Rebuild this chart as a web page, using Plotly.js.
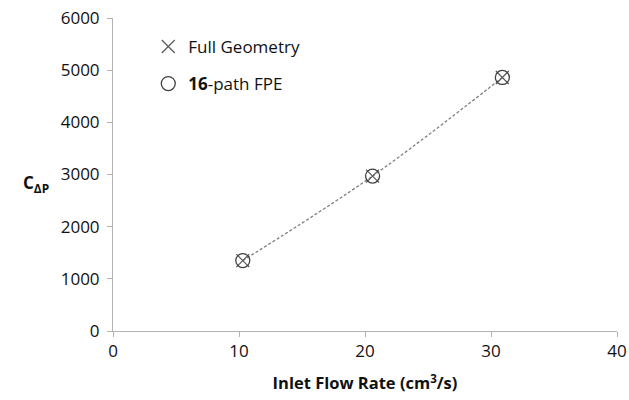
<!DOCTYPE html>
<html>
<head>
<meta charset="utf-8">
<script src="https://cdn.plot.ly/plotly-3.0.1.min.js"></script>
<style>
  html, body { margin: 0; padding: 0; background: #fff; }
  #chart { width: 629px; height: 400px; }
</style>
</head>
<body>
<div id="chart"></div>
<script>
// Inlet flow rate (cm^3/s) and pressure-drop coefficient
const flowRate = [10.3, 20.6, 30.9];
const fullGeometry = [1350, 2970, 4860];
const fpe16 = [1350, 2970, 4860];

const seriesNames = ['Full Geometry', '<b>16</b>-path FPE'];
const xTicks = [0, 10, 20, 30, 40];
const yTicks = [0, 1000, 2000, 3000, 4000, 5000, 6000];

const font = 'Open Sans, Lato, sans-serif';
const ink = '#111111';

const traces = [
  {
    // trend curve through the points
    x: flowRate, y: fpe16,
    mode: 'lines', type: 'scatter',
    line: { color: '#7f7f7f', width: 1.3, dash: '3px,2px', shape: 'spline' },
    showlegend: false, hoverinfo: 'skip'
  },
  {
    x: flowRate, y: fullGeometry,
    mode: 'markers', type: 'scatter', name: seriesNames[0],
    legendgroup: 'a',
    marker: { symbol: 'x-thin-open', size: 13, color: '#595959', line: { width: 1.2, color: '#595959' } }
  },
  {
    x: flowRate, y: fpe16,
    mode: 'markers', type: 'scatter', name: seriesNames[1],
    legendgroup: 'b',
    marker: { symbol: 'circle-open', size: 14, color: '#404040', line: { width: 1.3, color: '#404040' } }
  }
];

const layout = {
  width: 629, height: 400,
  margin: { l: 113, r: 12, t: 18, b: 69 },
  paper_bgcolor: '#fff', plot_bgcolor: '#fff',
  font: { family: font, size: 17, color: ink },
  showlegend: true,
  legend: {
    x: 0.07, y: 0.965, xanchor: 'left', yanchor: 'top',
    bgcolor: 'rgba(0,0,0,0)', tracegroupgap: 12,
    font: { family: font, size: 17, color: ink },
    itemwidth: 30
  },
  xaxis: {
    range: [0, 40], tickvals: xTicks, ticktext: xTicks.map(String),
    showgrid: false, zeroline: false,
    showline: true, linecolor: '#b3b3b3', linewidth: 1,
    ticks: 'outside', ticklen: 5, tickcolor: '#b3b3b3',
    tickfont: { family: font, size: 17, color: ink },
    title: { text: '<b>Inlet Flow Rate (cm<sup>3</sup>/s)</b>', standoff: 16,
             font: { family: font, size: 16.5, color: ink } },
    fixedrange: true
  },
  yaxis: {
    range: [0, 6000], tickvals: yTicks, ticktext: yTicks.map(String),
    showgrid: false, zeroline: false,
    showline: true, linecolor: '#b3b3b3', linewidth: 1,
    ticks: 'outside', ticklen: 5, tickcolor: '#b3b3b3',
    ticklabelstandoff: 4,
    tickfont: { family: font, size: 17, color: ink },
    fixedrange: true
  },
  annotations: [{
    text: '<b>C<sub>ΔP</sub></b>',
    xref: 'paper', yref: 'paper', x: -0.152, y: 0.47,
    xanchor: 'center', yanchor: 'middle', showarrow: false,
    font: { family: font, size: 17, color: ink }
  }]
};

Plotly.newPlot('chart', traces, layout, { displayModeBar: false, staticPlot: true });
</script>
</body>
</html>
